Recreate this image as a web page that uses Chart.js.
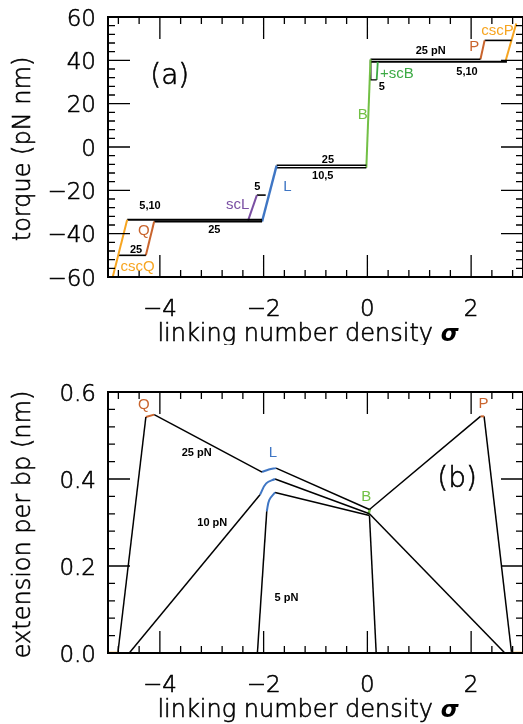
<!DOCTYPE html>
<html>
<head>
<meta charset="utf-8">
<script src="https://cdn.jsdelivr.net/npm/chart.js@4.4.1/dist/chart.umd.min.js"></script>
<style>
body { margin: 0; background: #fff; }
#wrap { position: relative; width: 523px; height: 724px; overflow: hidden; }
canvas { position: absolute; left: 0; }
</style>
</head>
<body>
<div id="wrap">
  <canvas id="torqueCanvas" width="523" height="345" style="top:0px"></canvas>
  <canvas id="extCanvas" width="523" height="379" style="top:345px"></canvas>
</div>
<script>
// ---- data, panel (a): [sigma, torque] ----
const cscQ = [[-4.93, -62], [-4.63, -33.6]];
const q25Low = [[-4.80, -50], [-4.27, -50]];
const qBranch = [[-4.27, -50], [-4.11, -34.4]];
const plateauQ510 = [[-4.63, -33.6], [-2.03, -33.6]];
const plateauQ25 = [[-4.11, -34.4], [-2.03, -34.4]];
const scL = [[-2.30, -34], [-2.13, -22.2]];
const scL5 = [[-2.13, -22.2], [-1.96, -22.2]];
const lBranch = [[-2.03, -34.4], [-1.75, -8.6]];
const plateauL25 = [[-1.75, -8.4], [-0.02, -8.4]];
const plateauL105 = [[-1.75, -9.6], [-0.02, -9.6]];
const bBranch = [[-0.02, -9.6], [0.06, 40.5]];
const b5 = [[0.06, 40], [0.065, 31], [0.18, 31]];
const scB = [[0.18, 31], [0.20, 39.3]];
const plateauB25 = [[0.06, 40.5], [2.18, 40.5]];
const plateauB510 = [[0.06, 39.3], [2.69, 39.3]];
const pBranch = [[2.18, 40.5], [2.26, 49.2]];
const p25High = [[2.26, 49.2], [2.78, 49.2]];
const cscP = [[2.66, 39.3], [2.87, 57]];

// ---- data, panel (b): [sigma, extension per bp] ----
const ext25Left = [[-4.81, 0], [-4.27, 0.5425]];
const extQ = [[-4.27, 0.5425], [-4.11, 0.548]];
const ext25Mid = [[-4.11, 0.548], [-2.03, 0.416]];
const extL25 = [[-2.03, 0.416], [-1.90, 0.422], [-1.76, 0.425]];
const ext25B = [[-1.76, 0.425], [0.04, 0.330]];
const extBP = [[0.04, 0.330], [2.18, 0.544]];
const extP = [[2.18, 0.544], [2.25, 0.544]];
const ext25Right = [[2.25, 0.544], [2.78, 0]];
const ext10Left = [[-4.59, 0], [-2.07, 0.364]];
const extL10 = [[-2.07, 0.364], [-1.95, 0.39], [-1.78, 0.40]];
const ext10B = [[-1.78, 0.40], [0.04, 0.320]];
const ext10Right = [[0.04, 0.320], [2.65, 0]];
const ext5Left = [[-2.12, 0], [-1.94, 0.3255]];
const extL5 = [[-1.94, 0.3255], [-1.89, 0.352], [-1.78, 0.369]];
const ext5B = [[-1.78, 0.369], [0.04, 0.316]];
const ext5Right = [[0.04, 0.316], [0.17, 0]];
const extB = [[0.02, 0.318], [0.05, 0.332]];
const extCscQ = [[-5, 0], [-4.81, 0]];
const extCscP = [[2.78, 0], [3, 0]];

// tick labels
const sigmaTicks = [-4, -2, 0, 2];
const torqueTicks = [-60, -40, -20, 0, 20, 40, 60];
const extTicks = [0.0, 0.2, 0.4, 0.6];

// text labels placed in data coordinates
const torqueNotes = [
  ['(a)', -3.81, 32.3, 'big', '#000'],
  ['25 pN', 1.22, 44.3, 'small', '#000'],
  ['5,10', 1.92, 34.8, 'small', '#000'],
  ['+scB', 0.57, 33.7, 'color', '#3daa45'],
  ['5', 0.28, 27.8, 'small', '#000'],
  ['B', -0.09, 14.8, 'color', '#72c045'],
  ['P', 2.06, 46.3, 'color', '#c9642d'],
  ['cscP', 2.51, 53.5, 'color', '#f7a520'],
  ['25', -0.76, -6.0, 'small', '#000'],
  ['10,5', -0.86, -13.4, 'small', '#000'],
  ['L', -1.54, -18.6, 'color', '#3f76c4'],
  ['5', -2.12, -18.5, 'small', '#000'],
  ['scL', -2.50, -26.8, 'color', '#7a4fa3'],
  ['5,10', -4.19, -27.2, 'small', '#000'],
  ['25', -2.95, -38.3, 'small', '#000'],
  ['Q', -4.31, -38.8, 'color', '#c9642d'],
  ['25', -4.46, -47.5, 'small', '#000'],
  ['cscQ', -4.43, -55.2, 'color', '#f7a520']
];
const extNotes = [
  ['(b)', 1.73, 0.398, 'big', '#000'],
  ['Q', -4.31, 0.571, 'color', '#c9642d'],
  ['25 pN', -3.29, 0.460, 'small', '#000'],
  ['10 pN', -2.99, 0.299, 'small', '#000'],
  ['5 pN', -1.56, 0.126, 'small', '#000'],
  ['L', -1.82, 0.460, 'color', '#3f76c4'],
  ['B', -0.02, 0.360, 'color', '#72c045'],
  ['P', 2.24, 0.573, 'color', '#c9642d']
];

const ORANGE = '#f7a520', BROWN = '#c9642d', PURPLE = '#7a4fa3';
const BLUE = '#3f76c4', GREEN = '#72c045', DKGREEN = '#3daa45';
const THIN = '200 23px "DejaVu Sans"';
const TITLE = '200 24px "DejaVu Sans"';
const SIGMA = 'italic bold 23px "DejaVu Sans"';
const FONTS = {
  big: '200 28px "DejaVu Sans"',
  small: 'bold 11px "Liberation Sans"',
  color: '15px "Liberation Sans"'
};

function seg(points, color, width, smooth) {
  return {
    data: points.map(p => ({ x: p[0], y: p[1] })),
    borderColor: color,
    borderWidth: width || 1.8,
    pointRadius: 0,
    tension: smooth ? 0.4 : 0,
    fill: false
  };
}

function fmtNum(v, digits) {
  let s = digits ? v.toFixed(digits) : String(v);
  return s.replace('-', '\u2212');
}

// thin font drawn with a light outline so it is not too pale
function thinText(ctx, text, x, y) {
  ctx.fillText(text, x, y);
  ctx.strokeText(text, x, y);
}

// frame, inward ticks, tick labels, axis titles, notes
function framePlugin(cfg) {
  return {
    id: 'frame',
    afterDatasetsDraw(chart) {
      const ctx = chart.ctx;
      const a = chart.chartArea;
      const xs = chart.scales.x, ys = chart.scales.y;
      ctx.save();
      ctx.strokeStyle = '#000';

      // ticks
      ctx.lineWidth = 1.3;
      ctx.beginPath();
      for (let k = -12; k <= 7; k++) {
        let px = xs.getPixelForValue(k * 0.4);
        let len = (k % 5 === 0) ? 22 : 7;
        ctx.moveTo(px, a.bottom); ctx.lineTo(px, a.bottom - len);
        ctx.moveTo(px, a.top); ctx.lineTo(px, a.top + len);
      }
      for (let k = cfg.kMin; k <= cfg.kMax; k++) {
        let py = ys.getPixelForValue(k * cfg.yMinor);
        let len = (k % 5 === 0) ? 22 : 7;
        ctx.moveTo(a.left, py); ctx.lineTo(a.left + len, py);
        ctx.moveTo(a.right, py); ctx.lineTo(a.right - len, py);
      }
      ctx.stroke();

      // frame
      ctx.lineWidth = 2;
      ctx.strokeRect(a.left, a.top, a.right - a.left, a.bottom - a.top);

      // tick labels
      ctx.fillStyle = '#000';
      ctx.lineWidth = 0.6;
      ctx.font = THIN;
      ctx.textAlign = 'center';
      ctx.textBaseline = 'alphabetic';
      sigmaTicks.forEach(v => {
        thinText(ctx, fmtNum(v), xs.getPixelForValue(v), a.bottom + 39);
      });
      ctx.textAlign = 'right';
      cfg.yTicks.forEach(v => {
        thinText(ctx, fmtNum(v, cfg.digits), 96, ys.getPixelForValue(v) + 8.5);
      });

      // x title with bold italic sigma
      ctx.font = TITLE;
      let t1 = 'linking number density ';
      let w1 = ctx.measureText(t1).width;
      ctx.font = SIGMA;
      let w2 = ctx.measureText('\u03c3').width;
      let x0 = 308 - (w1 + w2) / 2;
      ctx.textAlign = 'left';
      ctx.font = TITLE;
      thinText(ctx, t1, x0, a.bottom + 64);
      ctx.font = SIGMA;
      ctx.fillText('\u03c3', x0 + w1, a.bottom + 64);

      // y title
      ctx.save();
      ctx.translate(24, (a.top + a.bottom) / 2 + 2);
      ctx.rotate(-Math.PI / 2);
      ctx.font = TITLE;
      ctx.textAlign = 'center';
      ctx.textBaseline = 'middle';
      thinText(ctx, cfg.yTitle, 0, 0);
      ctx.restore();

      // notes
      ctx.textAlign = 'center';
      ctx.textBaseline = 'middle';
      cfg.notes.forEach(n => {
        ctx.font = FONTS[n[3]];
        ctx.fillStyle = n[4];
        if (n[3] === 'big') thinText(ctx, n[0], xs.getPixelForValue(n[1]), ys.getPixelForValue(n[2]));
        else ctx.fillText(n[0], xs.getPixelForValue(n[1]), ys.getPixelForValue(n[2]));
      });
      ctx.restore();
    }
  };
}

function baseOptions(yMin, yMax, pad) {
  return {
    responsive: false,
    animation: false,
    layout: { padding: pad },
    plugins: { legend: { display: false }, tooltip: { enabled: false } },
    scales: {
      x: { type: 'linear', min: -5, max: 3, display: false },
      y: { type: 'linear', min: yMin, max: yMax, display: false }
    }
  };
}

let torqueChart = new Chart(document.getElementById('torqueCanvas').getContext('2d'), {
  type: 'line',
  data: {
    datasets: [
      seg(cscQ, ORANGE, 2), seg(q25Low, '#000', 1.6), seg(qBranch, BROWN, 2),
      seg(plateauQ510, '#000', 2), seg(plateauQ25, '#000', 2),
      seg(scL, PURPLE, 2), seg(scL5, '#000', 1.6), seg(lBranch, BLUE, 2.4),
      seg(plateauL25, '#000', 1.5), seg(plateauL105, '#000', 1.5),
      seg(bBranch, GREEN, 2), seg(b5, '#000', 1.4), seg(scB, DKGREEN, 1.8),
      seg(plateauB25, '#000', 1.5), seg(plateauB510, '#000', 2),
      seg(pBranch, BROWN, 2), seg(p25High, '#000', 1.6), seg(cscP, ORANGE, 2)
    ]
  },
  options: baseOptions(-60, 60, { left: 108, right: 0, top: 17, bottom: 68 }),
  plugins: [framePlugin({
    kMin: -15, kMax: 15, yMinor: 4, yTicks: torqueTicks, digits: 0,
    yTitle: 'torque (pN nm)', notes: torqueNotes
  })]
});

let extChart = new Chart(document.getElementById('extCanvas').getContext('2d'), {
  type: 'line',
  data: {
    datasets: [
      seg(extCscQ, ORANGE, 2.5), seg(extCscP, ORANGE, 2.5),
      seg(ext25Left, '#000', 1.5), seg(extQ, BROWN, 2), seg(ext25Mid, '#000', 1.5),
      seg(extL25, BLUE, 2, true), seg(ext25B, '#000', 1.5),
      seg(extBP, '#000', 1.5), seg(extP, BROWN, 2), seg(ext25Right, '#000', 1.5),
      seg(ext10Left, '#000', 1.5), seg(extL10, BLUE, 2, true), seg(ext10B, '#000', 1.5),
      seg(ext10Right, '#000', 1.5),
      seg(ext5Left, '#000', 1.5), seg(extL5, BLUE, 2, true), seg(ext5B, '#000', 1.5),
      seg(ext5Right, '#000', 1.5), seg(extB, GREEN, 2.5)
    ]
  },
  options: baseOptions(0, 0.6, { left: 108, right: 0, top: 47, bottom: 71 }),
  plugins: [framePlugin({
    kMin: 0, kMax: 15, yMinor: 0.04, yTicks: extTicks, digits: 1,
    yTitle: 'extension per bp (nm)', notes: extNotes
  })]
});
</script>
</body>
</html>
